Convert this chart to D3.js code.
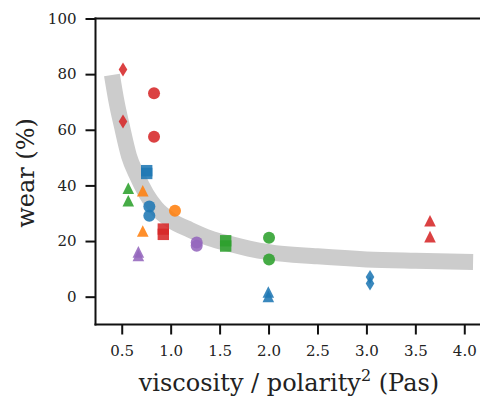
<!DOCTYPE html>
<html>
<head>
<meta charset="utf-8">
<script src="https://cdn.jsdelivr.net/npm/d3@7"></script>
<style>
    body { margin: 0; background: #fff; }
    svg { display: block; font-family: "DejaVu Serif", serif; }
</style>
</head>
<body>
<div id="chart"></div>
<script>
// wear vs viscosity / polarity^2, scatter with a gray guide curve

// axis setup
const xDomain = [0.232, 4.365];
const yDomain = [-10, 100];
const xTicks = [0.5, 1.0, 1.5, 2.0, 2.5, 3.0, 3.5, 4.0];
const yTicks = [0, 20, 40, 60, 80, 100];

// [x, y] pairs
const redDiamonds = [[0.513, 81.7], [0.513, 63.0]];
const redCircles = [[0.830, 73.1], [0.830, 57.5]];
const redSquares = [[0.925, 24.3], [0.925, 22.4]];
const redTriangles = [[3.650, 27.3], [3.650, 21.6]];
const blueSquares = [[0.755, 45.3], [0.755, 44.3]];
const blueCircles = [[0.782, 32.4], [0.782, 29.1]];
const blueTriangles = [[1.998, 1.7], [1.998, 0.1]];
const blueDiamonds = [[3.037, 7.1], [3.037, 4.7]];
const greenTriangles = [[0.567, 39.0], [0.567, 34.5]];
const greenSquares = [[1.562, 20.1], [1.562, 18.2]];
const greenCircles = [[2.005, 21.2], [2.005, 13.4]];
const orangeTriangles = [[0.715, 38.1], [0.715, 23.6]];
const orangeCircles = [[1.044, 30.9]];
const purpleTriangles = [[0.670, 16.1], [0.670, 14.8]];
const purpleCircles = [[1.266, 19.5], [1.266, 18.3]];

// gray guide curve, points read along its centre
const guideCurve = [
    [0.40, 79.7], [0.45, 69.5], [0.50, 61.5], [0.575, 50.5], [0.65, 44.0],
    [0.75, 37.0], [0.85, 32.0], [1.0, 27.5], [1.2, 24.0], [1.4, 21.0],
    [1.6, 19.0], [1.8, 17.3], [2.0, 16.0], [2.5, 14.5], [3.0, 13.4],
    [3.5, 12.9], [4.09, 12.5]
];

const colors = {
    blue: '#1f77b4', orange: '#ff7f0e', green: '#2ca02c',
    red: '#d62728', purple: '#9467bd'
};

const series = [
    {pts: redDiamonds, color: colors.red, shape: 'diamond'},
    {pts: redCircles, color: colors.red, shape: 'circle'},
    {pts: redSquares, color: colors.red, shape: 'square'},
    {pts: redTriangles, color: colors.red, shape: 'triangle'},
    {pts: blueSquares, color: colors.blue, shape: 'square'},
    {pts: blueCircles, color: colors.blue, shape: 'circle'},
    {pts: blueTriangles, color: colors.blue, shape: 'triangle'},
    {pts: blueDiamonds, color: colors.blue, shape: 'diamond'},
    {pts: greenTriangles, color: colors.green, shape: 'triangle'},
    {pts: greenSquares, color: colors.green, shape: 'square'},
    {pts: greenCircles, color: colors.green, shape: 'circle'},
    {pts: orangeTriangles, color: colors.orange, shape: 'triangle'},
    {pts: orangeCircles, color: colors.orange, shape: 'circle'},
    {pts: purpleTriangles, color: colors.purple, shape: 'triangle'},
    {pts: purpleCircles, color: colors.purple, shape: 'circle'}
];

const W = 480, H = 398;
const plotLeft = 95.5, plotRight = 500, plotTop = 18.5, plotBottom = 324.5;

const svg = d3.select('#chart').append('svg')
    .attr('width', W)
    .attr('height', H);

const x = d3.scaleLinear().domain(xDomain).range([plotLeft, plotRight]);
const y = d3.scaleLinear().domain(yDomain).range([plotBottom, plotTop]);

// marker paths, centred at 0,0
const shapes = {
    circle: 'M6,0A6,6 0 1,1 -6,0A6,6 0 1,1 6,0Z',
    square: 'M-5.7,-5.7H5.7V5.7H-5.7Z',
    triangle: 'M0,-5.8L5.8,5.8H-5.8Z',
    diamond: 'M0,-7L4.3,0L0,7L-4.3,0Z'
};

// guide curve
svg.append('path')
    .datum(guideCurve)
    .attr('fill', 'none')
    .attr('stroke', '#cccccc')
    .attr('stroke-width', 16)
    .attr('d', d3.line()
        .x(d => x(d[0]))
        .y(d => y(d[1]))
        .curve(d3.curveMonotoneX));

// markers
series.forEach(s => {
    svg.append('g').selectAll('path')
        .data(s.pts)
        .enter()
        .append('path')
        .attr('transform', d => `translate(${x(d[0])},${y(d[1])})`)
        .attr('d', shapes[s.shape])
        .attr('fill', s.color)
        .attr('fill-opacity', 0.88);
});

// axes
const xAxis = svg.append('g')
    .attr('transform', `translate(0,${plotBottom})`)
    .call(d3.axisBottom(x)
        .tickValues(xTicks)
        .tickFormat(d3.format('.1f'))
        .tickSize(10)
        .tickSizeOuter(0)
        .tickPadding(11));

const yAxis = svg.append('g')
    .attr('transform', `translate(${plotLeft},0)`)
    .call(d3.axisLeft(y)
        .tickValues(yTicks)
        .tickFormat(d3.format('d'))
        .tickSize(10)
        .tickSizeOuter(0)
        .tickPadding(9));

[xAxis, yAxis].forEach(g => {
    g.select('.domain').remove();
    g.selectAll('.tick line').attr('stroke', '#111').attr('stroke-width', 2);
    g.selectAll('.tick text')
        .attr('fill', '#222')
        .style('font-family', '"DejaVu Serif", serif')
        .style('font-size', '15px');
});

// spines: left, bottom, top (right edge is cut off by the frame)
const spine = [
    [plotLeft, plotTop, plotLeft, plotBottom],
    [plotLeft, plotBottom, plotRight, plotBottom],
    [plotLeft, plotTop, plotRight, plotTop]
];
svg.selectAll('.spine')
    .data(spine)
    .enter()
    .append('line')
    .attr('class', 'spine')
    .attr('x1', d => d[0]).attr('y1', d => d[1])
    .attr('x2', d => d[2]).attr('y2', d => d[3])
    .attr('stroke', '#111')
    .attr('stroke-width', 2)
    .attr('stroke-linecap', 'square');

// labels
const xLabel = svg.append('text')
    .attr('x', 289)
    .attr('y', 391)
    .attr('text-anchor', 'middle')
    .attr('fill', '#222')
    .style('font-size', '24px');
xLabel.append('tspan').text('viscosity / polarity');
xLabel.append('tspan')
    .attr('dy', -10)
    .style('font-size', '16px')
    .text('2');
xLabel.append('tspan')
    .attr('dy', 10)
    .text(' (Pas)');

svg.append('text')
    .attr('transform', 'translate(34,173) rotate(-90)')
    .attr('text-anchor', 'middle')
    .attr('fill', '#222')
    .style('font-size', '24px')
    .text('wear (%)');
</script>
</body>
</html>
